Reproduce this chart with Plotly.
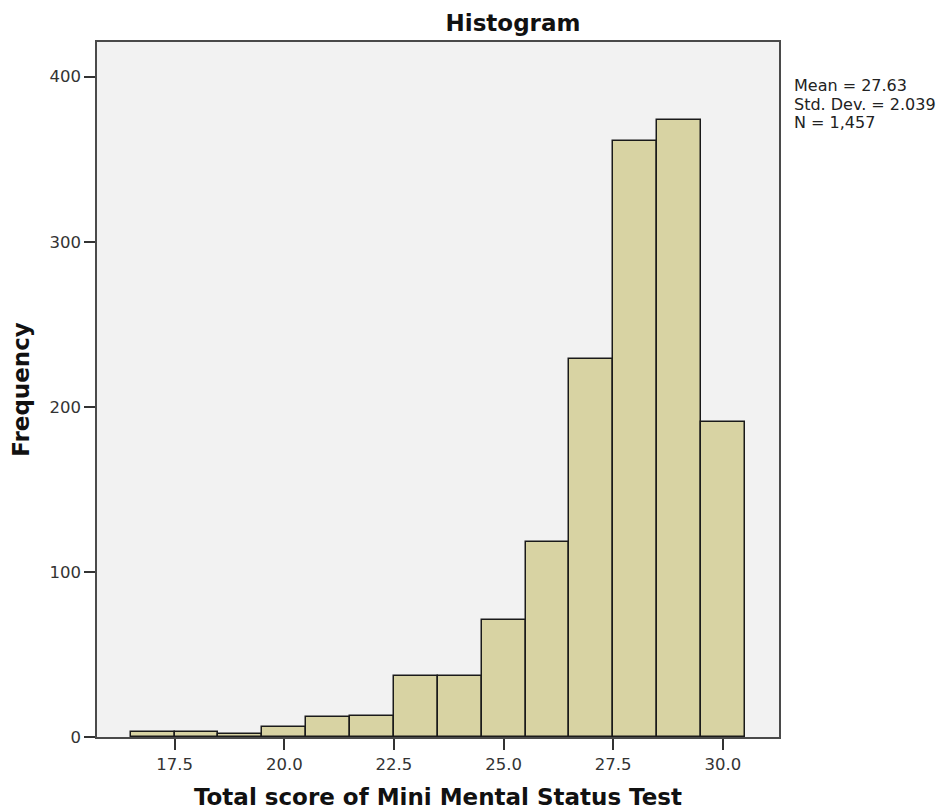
import plotly.graph_objects as go

# Data (bin width 1, centers 17..30)
bin_centers = [17, 18, 19, 20, 21, 22, 23, 24, 25, 26, 27, 28, 29, 30]
frequencies = [3, 3, 2, 6, 12, 13, 37, 37, 71, 118, 229, 361, 374, 191]
x_tick_vals = [17.5, 20.0, 22.5, 25.0, 27.5, 30.0]
y_tick_vals = [0, 100, 200, 300, 400]
stats_lines = ["Mean = 27.63", "Std. Dev. = 2.039", "N = 1,457"]

# The page body has an 8px margin, so work in figure pixels = reference - 8
OFF = 8
W, H = 950 - OFF, 812 - OFF
plot_left, plot_right = 96.7 - OFF, 779.0 - OFF
plot_top, plot_bottom = 41.5 - OFF, 737.3 - OFF

fig = go.Figure()
fig.add_trace(go.Bar(
    x=bin_centers,
    y=frequencies,
    width=1.0,
    marker=dict(color="#d8d3a3", line=dict(color="#1a1a1a", width=1.5)),
    hoverinfo="x+y",
))

axis_common = dict(
    showline=True, linecolor="#4a4a4a", linewidth=1.5, mirror=True,
    showgrid=False, zeroline=False,
    ticks="outside", ticklen=11, tickwidth=1.5, tickcolor="#333333",
    tickfont=dict(family="DejaVu Sans", size=16.5, color="#333333"),
)

fig.update_layout(
    width=W, height=H,
    margin=dict(l=plot_left, r=W - plot_right, t=plot_top, b=H - plot_bottom, autoexpand=False),
    paper_bgcolor="white",
    plot_bgcolor="#f2f2f2",
    showlegend=False,
    bargap=0,
    title=dict(
        text="<b>Histogram</b>",
        x=(513 - OFF) / W, xanchor="center", xref="container",
        y=1 - 15 / H, yanchor="middle", yref="container",
        pad=dict(t=0, b=0, l=0, r=0),
        font=dict(family="DejaVu Sans", size=23, color="#111111"),
    ),
    xaxis=dict(
        axis_common,
        range=[15.73, 31.28],
        tickvals=x_tick_vals,
        ticktext=[f"{v:.1f}" for v in x_tick_vals],
        title=dict(text="<b>Total score of Mini Mental Status Test</b>",
                   font=dict(family="DejaVu Sans", size=23, color="#111111"),
                   standoff=16),
    ),
    yaxis=dict(
        axis_common,
        range=[0, 421],
        tickvals=y_tick_vals,
        title=dict(text="<b>Frequency</b>",
                   font=dict(family="DejaVu Sans", size=23, color="#111111"),
                   standoff=14),
    ),
)

# Statistics text block on the right
line_centers_px = [85 - OFF, 103.7 - OFF, 122.3 - OFF]
for txt, ypx in zip(stats_lines, line_centers_px):
    fig.add_annotation(
        text=txt, xref="paper", yref="paper",
        x=(791.7 - OFF - plot_left) / (plot_right - plot_left),
        y=(plot_bottom - ypx) / (plot_bottom - plot_top),
        xanchor="left", yanchor="middle", showarrow=False,
        font=dict(family="DejaVu Sans", size=16, color="#222222"),
    )

fig.write_html("out.html")
